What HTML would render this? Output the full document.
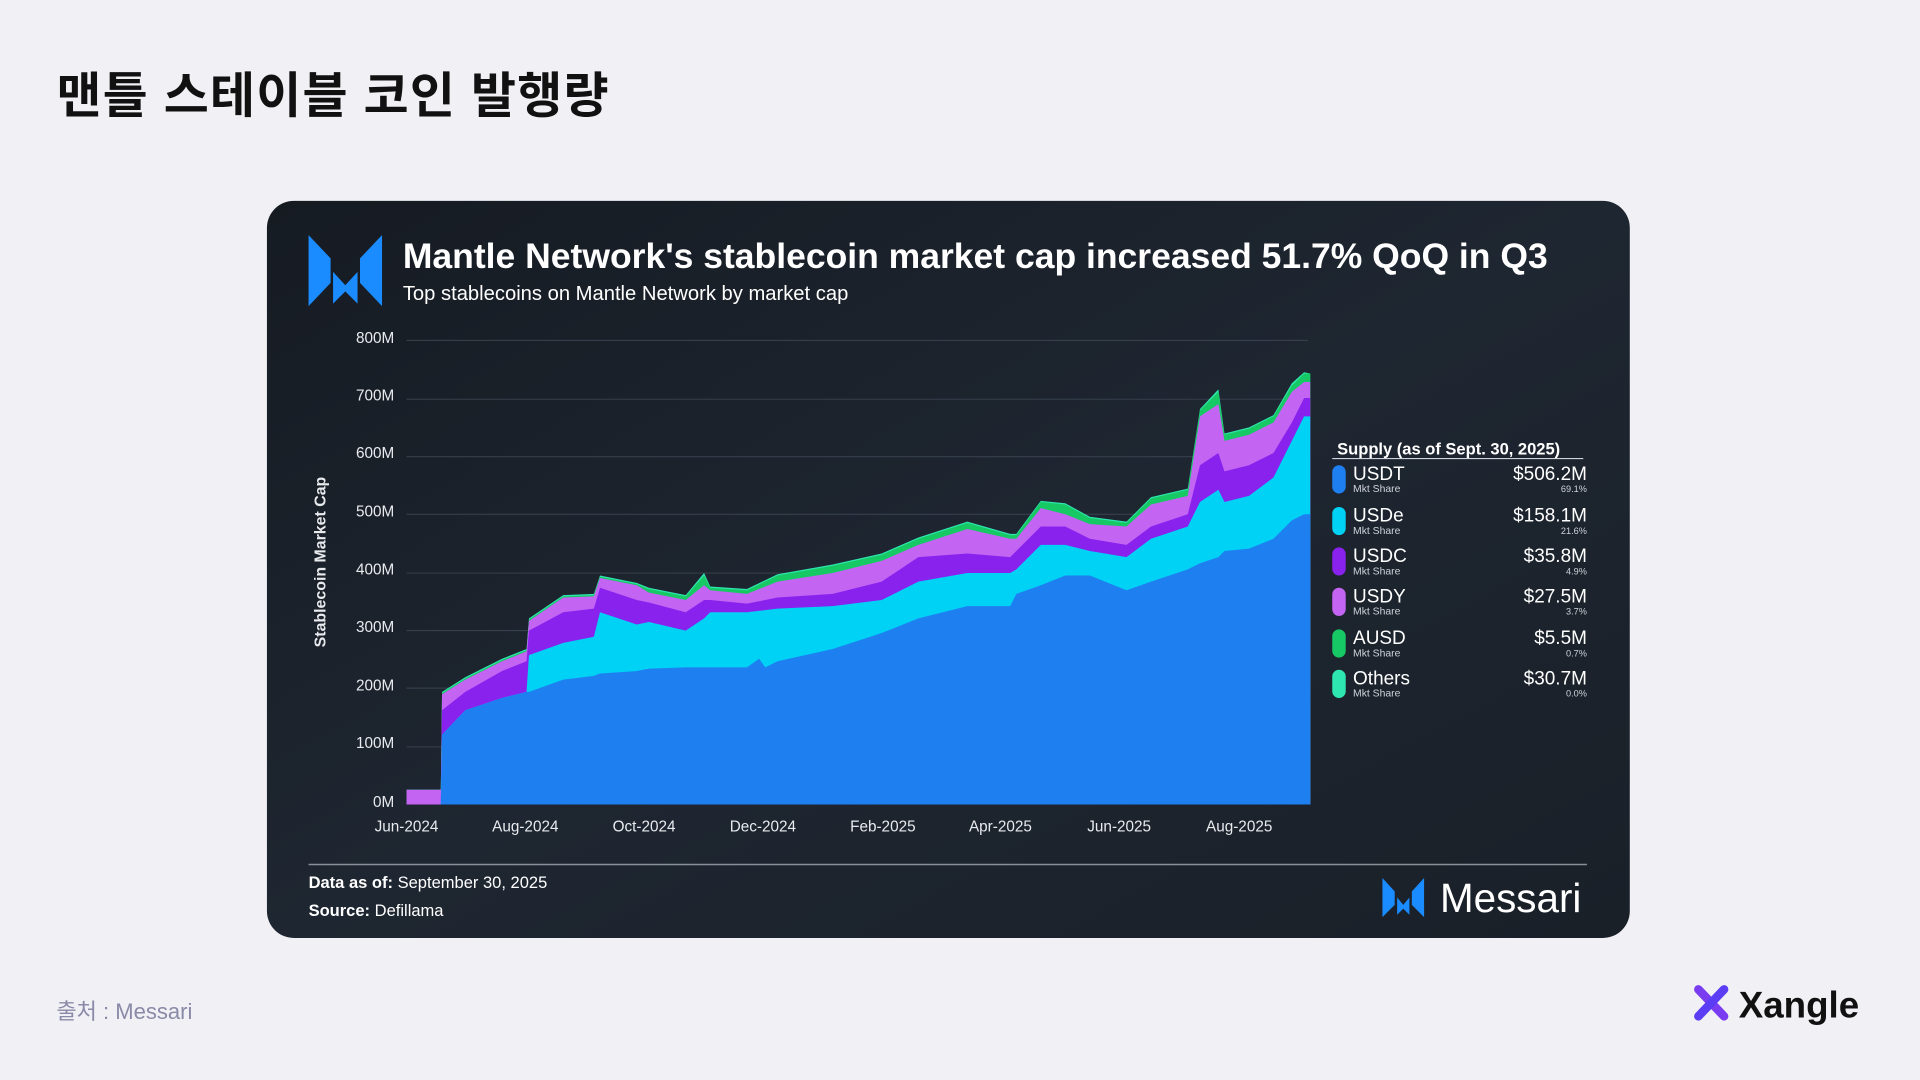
<!DOCTYPE html>
<html><head><meta charset="utf-8"><style>
html,body{margin:0;padding:0;background:#f0f0f5;}
svg{display:block}
</style></head><body>
<svg width="1920" height="1080" viewBox="0 0 1568 882" xmlns="http://www.w3.org/2000/svg">
<defs>
<linearGradient id="bg" x1="0" y1="0" x2="1" y2="1">
<stop offset="0" stop-color="#161b22"/><stop offset="0.5" stop-color="#1e2631"/><stop offset="1" stop-color="#1a2028"/>
</linearGradient>
</defs>
<rect width="1568" height="882" fill="#f0f0f5"/>
<text x="46" y="92" font-family="'Liberation Sans','Noto Sans CJK KR',sans-serif" font-size="40" font-weight="bold" fill="#111" letter-spacing="1">맨틀 스테이블 코인 발행량</text>
<rect x="218" y="164" width="1113" height="602" rx="22" fill="url(#bg)"/>
<g fill="#1a8cff">
<polygon points="252,192 270,211 270,231 252,250"/>
<polygon points="272,222 282,233 292,222 292,248 282,238 272,248"/>
<polygon points="312,192 294,211 294,231 312,250"/>
</g>
<g font-family="'Liberation Sans',sans-serif" fill="#fff">
<text x="329" y="219" font-size="29" font-weight="bold">Mantle Network's stablecoin market cap increased 51.7% QoQ in Q3</text>
<text x="329" y="245" font-size="16.5">Top stablecoins on Mantle Network by market cap</text>
</g>
<g stroke="#3a4350" stroke-width="0.8">
<line x1="332" y1="278" x2="1068" y2="278"/><line x1="332" y1="326" x2="1068" y2="326"/>
<line x1="332" y1="373" x2="1068" y2="373"/><line x1="332" y1="420" x2="1068" y2="420"/>
<line x1="332" y1="468" x2="1068" y2="468"/><line x1="332" y1="515" x2="1068" y2="515"/>
<line x1="332" y1="562" x2="1068" y2="562"/><line x1="332" y1="610" x2="1068" y2="610"/>
</g>
<g font-family="'Liberation Sans',sans-serif" fill="#e8eaee" font-size="12.5" text-anchor="end">
<text x="322" y="280">800M</text><text x="322" y="327">700M</text><text x="322" y="374">600M</text>
<text x="322" y="422">500M</text><text x="322" y="469">400M</text><text x="322" y="516">300M</text>
<text x="322" y="564">200M</text><text x="322" y="611">100M</text><text x="322" y="659">0M</text>
</g>
<text transform="translate(266,459) rotate(-90)" text-anchor="middle" font-family="'Liberation Sans',sans-serif" font-size="13" font-weight="bold" fill="#e8eaee">Stablecoin Market Cap</text>
<polygon fill="#2ee6b0" points="332,657 332,645 360,645 361,565 380,553 410,538 430,530 432,505 460,486 485,485 490,470 520,476 530,480 560,486 575,468 580,479 610,481 635,469 680,461 720,452 750,439 790,426 825,436 830,436 850,409 870,411 890,422 920,426 940,406 970,399 980,334 995,318 1000,354 1020,349 1040,339 1055,313 1065,304 1070,305 1070,657"/>
<polygon fill="#17c964" points="332,657 332,645 360,645 361,566 380,554 410,539 430,531 432,506 460,487 485,486 490,471 520,477 530,481 560,487 575,470 580,480 610,482 635,470 680,462 720,453 750,440 790,427 825,437 830,437 850,410 870,412 890,423 920,427 940,407 970,400 980,335 995,320 1000,355 1020,350 1040,340 1055,315 1065,305 1070,305 1070,657"/>
<polygon fill="#c464f2" points="332,657 332,645 360,645 361,567 380,555 410,540 430,532 432,507 460,488 485,487 490,472 520,478 530,484 560,490 575,478 580,482 610,485 635,475 680,468 720,458 750,445 790,432 825,440 830,440 850,415 870,420 890,428 920,430 940,412 970,405 980,340 995,330 1000,360 1020,355 1040,345 1055,320 1065,312 1070,312 1070,657"/>
<polygon fill="#8a22ee" points="332,657 360,657 361,580 380,565 410,548 430,540 432,515 460,500 485,497 490,480 520,490 530,492 560,500 575,490 580,490 610,493 635,488 680,485 720,475 750,455 790,452 825,455 830,450 850,430 870,430 890,440 920,445 940,430 970,420 980,380 995,370 1000,385 1020,380 1040,370 1055,345 1065,325 1070,325 1070,657"/>
<polygon fill="#00d2f5" points="332,657 360,657 361,600 380,580 410,570 430,565 432,535 460,525 485,520 490,500 520,510 530,508 560,515 575,505 580,500 610,500 635,497 680,495 720,490 750,475 790,468 825,468 830,465 850,445 870,445 890,450 920,455 940,440 970,430 980,410 995,400 1000,410 1020,405 1040,390 1055,360 1065,340 1070,340 1070,657"/>
<polygon fill="#1e80f0" points="332,657 360,657 361,600 380,580 410,570 430,565 432,565 460,555 485,552 490,550 520,548 530,546 560,545 575,545 580,545 610,545 620,538 625,545 635,540 680,530 720,517 750,505 790,495 825,495 830,485 850,478 870,470 890,470 920,482 940,475 970,465 980,460 995,455 1000,450 1020,448 1040,440 1055,425 1065,420 1070,420 1070,657"/>
<g font-family="'Liberation Sans',sans-serif" fill="#e8eaee" font-size="12.5" text-anchor="middle">
<text x="332" y="679">Jun-2024</text><text x="429" y="679">Aug-2024</text><text x="526" y="679">Oct-2024</text>
<text x="623" y="679">Dec-2024</text><text x="721" y="679">Feb-2025</text><text x="817" y="679">Apr-2025</text>
<text x="914" y="679">Jun-2025</text><text x="1012" y="679">Aug-2025</text>
</g>
<g font-family="'Liberation Sans',sans-serif" fill="#fff">
<text x="1092" y="371" font-size="13.5" font-weight="bold">Supply (as of Sept. 30, 2025)</text>
<line x1="1088" y1="374.5" x2="1293" y2="374.5" stroke="#cfd3da" stroke-width="1"/>
<g font-size="15.5">
<text x="1105" y="392">USDT</text><text x="1105" y="426">USDe</text><text x="1105" y="459">USDC</text>
<text x="1105" y="492">USDY</text><text x="1105" y="526">AUSD</text><text x="1105" y="559">Others</text>
</g>
<g font-size="8.5" fill="#cfd3da">
<text x="1105" y="402">Mkt Share</text><text x="1105" y="436">Mkt Share</text><text x="1105" y="469">Mkt Share</text>
<text x="1105" y="502">Mkt Share</text><text x="1105" y="536">Mkt Share</text><text x="1105" y="569">Mkt Share</text>
</g>
<g font-size="15.5" text-anchor="end">
<text x="1296" y="392">$506.2M</text><text x="1296" y="426">$158.1M</text><text x="1296" y="459">$35.8M</text>
<text x="1296" y="492">$27.5M</text><text x="1296" y="526">$5.5M</text><text x="1296" y="559">$30.7M</text>
</g>
<g font-size="7.5" text-anchor="end" fill="#cfd3da">
<text x="1296" y="402">69.1%</text><text x="1296" y="436">21.6%</text><text x="1296" y="469">4.9%</text>
<text x="1296" y="502">3.7%</text><text x="1296" y="536">0.7%</text><text x="1296" y="569">0.0%</text>
</g>
</g>
<rect x="1088" y="380" width="11" height="23" rx="5.5" fill="#1e80f0"/>
<rect x="1088" y="414" width="11" height="23" rx="5.5" fill="#00d2f5"/>
<rect x="1088" y="447" width="11" height="23" rx="5.5" fill="#8a22ee"/>
<rect x="1088" y="480" width="11" height="23" rx="5.5" fill="#c464f2"/>
<rect x="1088" y="514" width="11" height="23" rx="5.5" fill="#17c964"/>
<rect x="1088" y="547" width="11" height="23" rx="5.5" fill="#2ee6b0"/>
<line x1="252" y1="706" x2="1296" y2="706" stroke="#8a909a" stroke-width="1.2"/>
<g font-family="'Liberation Sans',sans-serif" fill="#fff" font-size="13.5">
<text x="252" y="725"><tspan font-weight="bold">Data as of:</tspan> September 30, 2025</text>
<text x="252" y="748"><tspan font-weight="bold">Source:</tspan> Defillama</text>
</g>
<g fill="#1a8cff">
<polygon points="1129,717 1139,728 1139,739 1129,749"/>
<polygon points="1141,733 1146,739 1151,733 1151,747 1146,742 1141,747"/>
<polygon points="1163,717 1153,728 1153,739 1163,749"/>
</g>
<text x="1176" y="745" font-family="'Liberation Sans',sans-serif" font-size="33" fill="#fff">Messari</text>
<text x="46" y="832" font-family="'Liberation Sans','Noto Sans CJK KR',sans-serif" font-size="18" fill="#8a8aa8">출처 : Messari</text>
<g stroke-linecap="round" stroke-width="7">
<line x1="1387" y1="808" x2="1408" y2="830" stroke="#7a3cf0"/>
<line x1="1408" y1="808" x2="1387" y2="830" stroke="#5b3df5"/>
</g>
<text x="1420" y="831" font-family="'Liberation Sans',sans-serif" font-size="30" font-weight="bold" fill="#111">Xangle</text>
</svg>
</body></html>
